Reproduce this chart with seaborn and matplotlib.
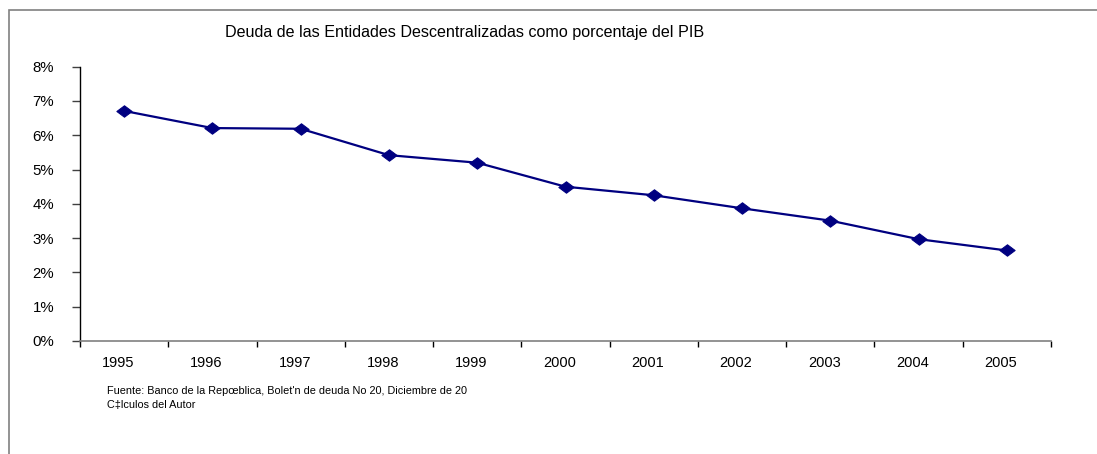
import matplotlib
matplotlib.use("Agg")
import matplotlib.pyplot as plt
import seaborn as sns
import pandas as pd
import numpy as np
from matplotlib.path import Path
from matplotlib.patches import Rectangle
from matplotlib.ticker import FixedLocator, PercentFormatter
from matplotlib.transforms import ScaledTranslation

years = ["1995", "1996", "1997", "1998", "1999", "2000",
         "2001", "2002", "2003", "2004", "2005"]
debt_pct = [6.71, 6.21, 6.19, 5.42, 5.20, 4.50, 4.25, 3.87, 3.51, 2.97, 2.64]
y_ticks = [0, 1, 2, 3, 4, 5, 6, 7, 8]

title = "Deuda de las Entidades Descentralizadas como porcentaje del PIB"
source_line1 = "Fuente: Banco de la Repœblica, Bolet'n de deuda No 20, Diciembre de 2005"
source_line2 = "C‡lculos del Autor"

sns.set_theme(style="white")
plt.rcParams["font.family"] = ["Liberation Sans", "DejaVu Sans"]

df = pd.DataFrame({"year": years, "value": debt_pct})

W, H = 1097, 454
fig = plt.figure(figsize=(W / 100, H / 100), dpi=100)
fig.patch.set_facecolor("white")

# outer chart border (top and left visible)
fig.patches.append(Rectangle((9 / W, -0.1), 1.2, 1 - 10 / H + 0.1,
                             transform=fig.transFigure, fill=False,
                             edgecolor="#808080", linewidth=1.2))

ax = fig.add_axes([80 / W, 1 - 341 / H, (1051 - 80) / W, (341 - 66.7) / H])

diamond = Path([(-1, 0), (0, 0.75), (1, 0), (0, -0.75), (-1, 0)],
               [Path.MOVETO, Path.LINETO, Path.LINETO, Path.LINETO, Path.CLOSEPOLY])

sns.lineplot(data=df, x="year", y="value", ax=ax, color="#000080",
             linewidth=1.6, marker=diamond, markersize=11,
             markeredgecolor="#000080", markerfacecolor="#000080", sort=False)

ax.set_xlim(-0.5, len(years) - 0.5)
ax.set_ylim(0, 8)
ax.set_xlabel("")
ax.set_ylabel("")
ax.set_yticks(y_ticks)
ax.yaxis.set_major_formatter(PercentFormatter(decimals=0))
ax.set_xticks(range(len(years)))
ax.set_xticklabels(years)
ax.xaxis.set_minor_locator(FixedLocator(np.arange(-0.5, len(years), 1.0)))

ax.tick_params(axis="x", which="major", length=0, pad=11, labelsize=10.5, colors="black")
ax.tick_params(axis="x", which="minor", length=4, width=1, color="black", bottom=True)
ax.tick_params(axis="y", which="major", length=5.5, width=1, color="#404040",
               pad=13, labelsize=10.8, left=True, labelcolor="black")

shift = ScaledTranslation(-6 / 100, 0, fig.dpi_scale_trans)
for lbl in ax.get_xticklabels():
    lbl.set_transform(lbl.get_transform() + shift)

for s in ["top", "right"]:
    ax.spines[s].set_visible(False)
ax.spines["left"].set_color("black")
ax.spines["left"].set_linewidth(1)
ax.spines["bottom"].set_color("#808080")
ax.spines["bottom"].set_linewidth(1.2)
ax.grid(False)
ax.set_facecolor("white")

fig.text(464.5 / W, 1 - 33 / H, title, ha="center", va="center",
         fontsize=11.6, color="black")

t1 = fig.text(107 / W, 1 - 391 / H, source_line1, ha="left", va="center",
              fontsize=7.8, color="black")
clip_rect = Rectangle((0, 0), 467 / W, 1, transform=fig.transFigure,
                      fill=False, visible=False)
fig.patches.append(clip_rect)
t1.set_clip_path(clip_rect)
t1.set_clip_on(True)
fig.text(107 / W, 1 - 405 / H, source_line2, ha="left", va="center",
         fontsize=7.8, color="black")

fig.savefig("out.png", dpi=100, facecolor="white")
